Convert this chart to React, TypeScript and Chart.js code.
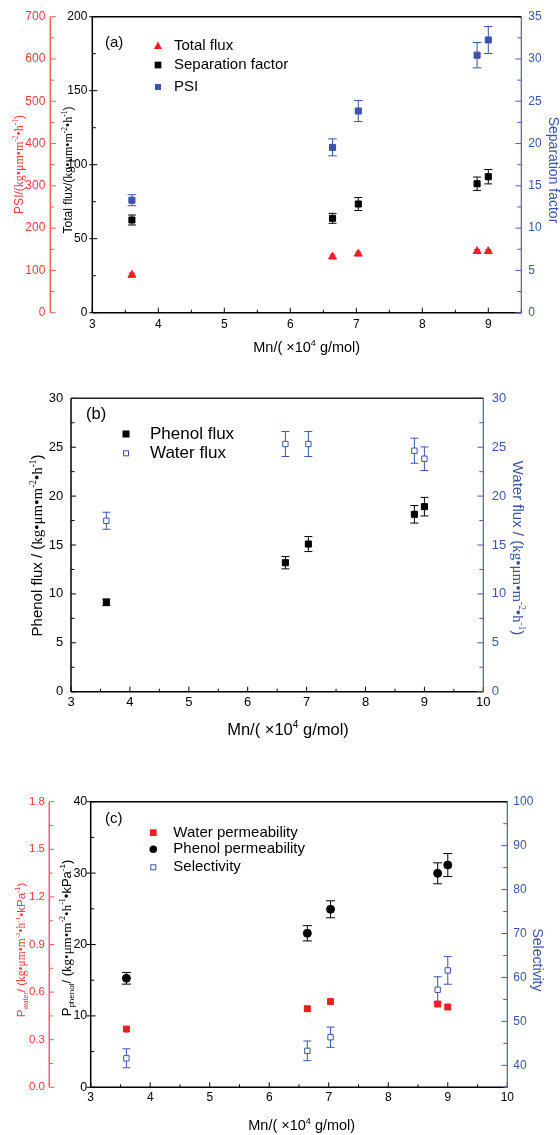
import React, { useEffect, useRef } from 'react';
import { Chart, registerables } from 'chart.js';

Chart.register(...registerables);

const SANS = '"Liberation Sans", Arial, Helvetica, sans-serif';
const SERIF = '"Liberation Serif", "Times New Roman", serif';

const RED = '#f01e23';
const RED_AXIS = '#f35a5a';
const RED_TEXT = '#f23a3a';
const BLUE = '#3b55a6';
const BLUE_AXIS = '#4560ad';
const BLACK = '#000000';

// Mn (x10^4 g/mol)
const MN = [3.6, 6.64, 7.03, 8.83, 9.0];

// (a)
const TOTAL_FLUX = [25.5, 37.8, 39.8, 41.5, 41.5];
const TOTAL_FLUX_ERR = [1.2, 1.2, 1.2, 1.2, 1.2];
const SEPARATION_FACTOR = [10.96, 11.16, 12.85, 15.25, 16.08];
const SEPARATION_FACTOR_ERR = [0.59, 0.59, 0.77, 0.79, 0.85];
const PSI = [266, 391, 477, 609, 645];
const PSI_ERR = [13, 20, 25, 30, 32];

// (b)
const PHENOL_FLUX = [9.14, 13.19, 15.1, 18.14, 18.92];
const PHENOL_FLUX_ERR = [0.34, 0.63, 0.77, 0.9, 0.95];
const WATER_FLUX = [17.48, 25.33, 25.33, 24.64, 23.82];
const WATER_FLUX_ERR = [0.87, 1.28, 1.28, 1.28, 1.21];

// (c)
const WATER_PERM = [0.367, 0.495, 0.54, 0.525, 0.506];
const WATER_PERM_ERR = [0.012, 0.015, 0.015, 0.015, 0.012];
const PHENOL_PERM = [15.27, 21.57, 24.93, 29.97, 31.13];
const PHENOL_PERM_ERR = [0.82, 1.07, 1.19, 1.47, 1.61];
const SELECTIVITY = [41.6, 43.3, 46.4, 57.2, 61.6];
const SELECTIVITY_ERR = [2.16, 2.24, 2.3, 2.96, 3.15];

// tick labels
const A_X_LABELS = [3, 4, 5, 6, 7, 8, 9];
const A_FLUX_LABELS = [0, 50, 100, 150, 200];
const A_PSI_LABELS = [0, 100, 200, 300, 400, 500, 600, 700];
const A_SF_LABELS = [0, 5, 10, 15, 20, 25, 30, 35];
const BC_X_LABELS = [3, 4, 5, 6, 7, 8, 9, 10];
const B_FLUX_LABELS = [0, 5, 10, 15, 20, 25, 30];
const C_PPHENOL_LABELS = [0, 10, 20, 30, 40];
const C_PWATER_LABELS = [0, 0.3, 0.6, 0.9, 1.2, 1.5, 1.8];
const C_SEL_LABELS = [40, 50, 60, 70, 80, 90, 100];

type Seg = { t: string; s?: 'sup' | 'sub'; serif?: boolean };

const isIn = (labels: number[], v: number) => labels.some((l) => Math.abs(l - v) < 1e-6);

function makeScale(o: any) {
  return {
    type: 'linear',
    position: o.pos,
    min: o.min,
    max: o.max,
    weight: o.weight ?? 0,
    afterBuildTicks: (s: any) => {
      const n = Math.round((o.max - o.min) / o.minor);
      const t: any[] = [];
      for (let i = 0; i <= n; i++) t.push({ value: Math.round((o.min + i * o.minor) * 1e6) / 1e6 });
      s.ticks = t;
    },
    ticks: {
      autoSkip: false,
      maxRotation: 0,
      minRotation: 0,
      padding: o.pad,
      color: o.color,
      font: { family: SANS, size: o.size },
      callback: (v: number) => {
        const m = o.labels.find((l: number) => Math.abs(l - v) < 1e-6);
        return m === undefined ? '' : o.fmt ? o.fmt(m) : String(m);
      },
    },
    grid: { display: false, drawTicks: false },
    border: { display: false },
    afterFit: (s: any) => {
      if (o.w !== undefined) s.width = o.w;
      if (o.h !== undefined) s.height = o.h;
    },
  };
}

const framePlugin = {
  id: 'frame',
  beforeDatasetsDraw(chart: any, _a: any, o: any) {
    const ctx = chart.ctx;
    const ca = chart.chartArea;
    ctx.save();
    for (const ax of o.axes) {
      const s = chart.scales[ax.id];
      ctx.strokeStyle = ax.color;
      ctx.lineWidth = 1;
      ctx.beginPath();
      for (const t of s.ticks) {
        const p = s.getPixelForValue(t.value);
        const maj = isIn(ax.labels, t.value);
        const inn = maj ? ax.majIn : ax.minIn;
        const out = maj ? ax.majOut || 0 : 0;
        if (ax.side === 'bottom') {
          ctx.moveTo(p, s.top + out);
          ctx.lineTo(p, s.top - inn);
        } else if (ax.side === 'left') {
          ctx.moveTo(s.right - out, p);
          ctx.lineTo(s.right + inn, p);
        } else {
          ctx.moveTo(s.left + out, p);
          ctx.lineTo(s.left - inn, p);
        }
      }
      ctx.stroke();
      ctx.lineWidth = ax.lw;
      ctx.beginPath();
      if (ax.side === 'bottom') {
        ctx.moveTo(ca.left, s.top);
        ctx.lineTo(ca.right, s.top);
      } else {
        const x = ax.side === 'left' ? s.right : s.left;
        ctx.moveTo(x, ca.top);
        ctx.lineTo(x, ca.bottom);
      }
      ctx.stroke();
    }
    ctx.strokeStyle = o.topColor;
    ctx.lineWidth = o.topWidth;
    ctx.beginPath();
    ctx.moveTo(ca.left, ca.top);
    ctx.lineTo(ca.right, ca.top);
    ctx.stroke();
    ctx.restore();
  },
};

const errPlugin = {
  id: 'errbars',
  beforeDatasetsDraw(chart: any) {
    const ctx = chart.ctx;
    chart.data.datasets.forEach((ds: any) => {
      if (!ds.errors) return;
      const xs = chart.scales.x;
      const ys = chart.scales[ds.yAxisID];
      ctx.save();
      ctx.strokeStyle = ds.errColor;
      ctx.lineWidth = 1;
      ds.data.forEach((pt: any, j: number) => {
        const x = xs.getPixelForValue(pt.x);
        const y1 = ys.getPixelForValue(pt.y - ds.errors[j]);
        const y2 = ys.getPixelForValue(pt.y + ds.errors[j]);
        const c = ds.cap;
        ctx.beginPath();
        ctx.moveTo(x, y1);
        ctx.lineTo(x, y2);
        ctx.moveTo(x - c, y1);
        ctx.lineTo(x + c, y1);
        ctx.moveTo(x - c, y2);
        ctx.lineTo(x + c, y2);
        ctx.stroke();
      });
      ctx.restore();
    });
  },
};

function drawRich(ctx: CanvasRenderingContext2D, segs: Seg[], cx: number, cy: number, size: number, color: string, rot: number) {
  ctx.save();
  ctx.translate(cx, cy);
  ctx.rotate(rot);
  ctx.fillStyle = color;
  ctx.textBaseline = 'alphabetic';
  ctx.textAlign = 'left';
  const fonts = segs.map((sg) => `${sg.s ? size * 0.62 : size}px ${sg.serif ? SERIF : SANS}`);
  const widths = segs.map((sg, i) => {
    ctx.font = fonts[i];
    return ctx.measureText(sg.t).width;
  });
  const total = widths.reduce((a, b) => a + b, 0);
  let x = -total / 2;
  const base = size * 0.36;
  segs.forEach((sg, i) => {
    ctx.font = fonts[i];
    const dy = sg.s === 'sup' ? -size * 0.42 : sg.s === 'sub' ? size * 0.22 : 0;
    ctx.fillText(sg.t, x, base + dy);
    x += widths[i];
  });
  ctx.restore();
}

function drawText(ctx: CanvasRenderingContext2D, t: string, x: number, y: number, size: number, color: string) {
  ctx.save();
  ctx.font = `${size}px ${SANS}`;
  ctx.fillStyle = color;
  ctx.textAlign = 'left';
  ctx.textBaseline = 'middle';
  ctx.fillText(t, x, y);
  ctx.restore();
}

function legendMarker(ctx: CanvasRenderingContext2D, kind: string, x: number, y: number, sz: number, color: string) {
  ctx.save();
  ctx.fillStyle = color;
  ctx.strokeStyle = color;
  ctx.lineWidth = 1;
  if (kind === 'tri') {
    ctx.beginPath();
    ctx.moveTo(x, y - sz * 0.55);
    ctx.lineTo(x + sz / 2, y + sz * 0.4);
    ctx.lineTo(x - sz / 2, y + sz * 0.4);
    ctx.closePath();
    ctx.fill();
  } else if (kind === 'sq') {
    ctx.fillRect(x - sz / 2, y - sz / 2, sz, sz);
  } else if (kind === 'osq') {
    ctx.fillStyle = '#fff';
    ctx.fillRect(x - sz / 2, y - sz / 2, sz, sz);
    ctx.strokeRect(x - sz / 2 + 0.5, y - sz / 2 + 0.5, sz - 1, sz - 1);
  } else {
    ctx.beginPath();
    ctx.arc(x, y, sz / 2, 0, Math.PI * 2);
    ctx.fill();
  }
  ctx.restore();
}

const FLUX_UNIT: Seg[] = [
  { t: 'kg•μm•m', serif: true },
  { t: '-2', s: 'sup', serif: true },
  { t: '•h', serif: true },
  { t: '-1', s: 'sup', serif: true },
  { t: ')' },
];
const PERM_UNIT: Seg[] = [
  { t: 'kg•μm•m', serif: true },
  { t: '-2', s: 'sup', serif: true },
  { t: '•h', serif: true },
  { t: '-1', s: 'sup', serif: true },
  { t: '•kPa' },
  { t: '-1', s: 'sup' },
  { t: ')' },
];
const X_TITLE: Seg[] = [{ t: 'Mn/( ×10' }, { t: '4', s: 'sup' }, { t: ' g/mol)' }];

function pts(ys: number[]) {
  return MN.map((x, i) => ({ x, y: ys[i] }));
}

function ds(label: string, ys: number[], errs: number[], yAxisID: string, style: string, r: number, color: string, fill: string, cap: number) {
  return {
    label,
    data: pts(ys),
    yAxisID,
    pointStyle: style,
    pointRadius: r,
    pointBackgroundColor: fill,
    pointBorderColor: color,
    pointBorderWidth: 1,
    backgroundColor: fill,
    borderColor: color,
    errors: errs,
    errColor: color,
    cap,
  };
}

const baseOpts = (top: number) => ({
  responsive: false,
  animation: false,
  events: [],
  layout: { padding: { top, left: 0, right: 0, bottom: 0 } },
});

function buildA(): any {
  return {
    type: 'scatter',
    data: {
      datasets: [
        ds('Total flux', TOTAL_FLUX, TOTAL_FLUX_ERR, 'y', 'triangle', 4.6, RED, RED, 3),
        ds('Separation factor', SEPARATION_FACTOR, SEPARATION_FACTOR_ERR, 'ySF', 'rect', 4.3, BLACK, BLACK, 4),
        ds('PSI', PSI, PSI_ERR, 'yPSI', 'rect', 4.3, BLUE, BLUE, 4.3),
      ],
    },
    options: {
      ...baseOpts(16.7),
      plugins: {
        legend: { display: false },
        tooltip: { enabled: false },
        frame: {
          topColor: BLACK,
          topWidth: 1.5,
          axes: [
            { id: 'x', side: 'bottom', color: BLACK, lw: 1.5, labels: A_X_LABELS, majIn: 5, minIn: 3 },
            { id: 'y', side: 'left', color: BLACK, lw: 1.5, labels: A_FLUX_LABELS, majIn: 5, majOut: 3, minIn: 3.5 },
            { id: 'yPSI', side: 'left', color: RED_AXIS, lw: 1.4, labels: A_PSI_LABELS, majIn: 5.5, minIn: 4 },
            { id: 'ySF', side: 'right', color: BLUE_AXIS, lw: 1.2, labels: A_SF_LABELS, majIn: 6, minIn: 4 },
          ],
        },
      },
      scales: {
        x: makeScale({ pos: 'bottom', min: 3, max: 9.5, minor: 0.5, labels: A_X_LABELS, color: BLACK, size: 12, pad: 4.6, h: 47.3 }),
        y: makeScale({ pos: 'left', min: 0, max: 200, minor: 25, labels: A_FLUX_LABELS, color: BLACK, size: 12, pad: 5, w: 42, weight: 0 }),
        yPSI: makeScale({ pos: 'left', min: 0, max: 700, minor: 50, labels: A_PSI_LABELS, color: RED_TEXT, size: 12, pad: 5, w: 50.3, weight: 1 }),
        ySF: makeScale({ pos: 'right', min: 0, max: 35, minor: 2.5, labels: A_SF_LABELS, color: BLUE, size: 12, pad: 7, w: 38.7 }),
      },
    },
    plugins: [
      framePlugin,
      errPlugin,
      {
        id: 'textA',
        afterDraw(chart: any) {
          const ctx = chart.ctx;
          drawText(ctx, '(a)', 105, 42.5, 15, BLACK);
          legendMarker(ctx, 'tri', 158, 45.8, 8, RED);
          legendMarker(ctx, 'sq', 158, 65, 6.7, BLACK);
          legendMarker(ctx, 'sq', 158, 87, 6, BLUE);
          drawText(ctx, 'Total flux', 174, 45.8, 15, BLACK);
          drawText(ctx, 'Separation factor', 174, 65, 15, BLACK);
          drawText(ctx, 'PSI', 174, 87, 15, BLACK);
          drawRich(ctx, [{ t: 'PSI/(' }, ...FLUX_UNIT], 18.5, 164.5, 12, RED_TEXT, -Math.PI / 2);
          drawRich(ctx, [{ t: 'Total flux/(' }, ...FLUX_UNIT], 68, 170, 12, BLACK, -Math.PI / 2);
          drawRich(ctx, [{ t: 'Separation factor' }], 554, 170, 14, BLUE, Math.PI / 2);
          drawRich(ctx, X_TITLE, 306.7, 346.5, 14.5, BLACK, 0);
        },
      },
    ],
  };
}

function buildB(): any {
  return {
    type: 'scatter',
    data: {
      datasets: [
        ds('Phenol flux', PHENOL_FLUX, PHENOL_FLUX_ERR, 'y', 'rect', 4.3, BLACK, BLACK, 4),
        ds('Water flux', WATER_FLUX, WATER_FLUX_ERR, 'yW', 'rect', 3.8, BLUE, '#ffffff', 4),
      ],
    },
    options: {
      ...baseOpts(38.3),
      plugins: {
        legend: { display: false },
        tooltip: { enabled: false },
        frame: {
          topColor: '#222',
          topWidth: 1.5,
          axes: [
            { id: 'x', side: 'bottom', color: BLACK, lw: 1.5, labels: BC_X_LABELS, majIn: 5, minIn: 3 },
            { id: 'y', side: 'left', color: BLACK, lw: 1.5, labels: B_FLUX_LABELS, majIn: 5, minIn: 3.5 },
            { id: 'yW', side: 'right', color: BLUE_AXIS, lw: 1.2, labels: B_FLUX_LABELS, majIn: 6, minIn: 4 },
          ],
        },
      },
      scales: {
        x: makeScale({ pos: 'bottom', min: 3, max: 10, minor: 0.5, labels: BC_X_LABELS, color: BLACK, size: 13, pad: 3, h: 48.3 }),
        y: makeScale({ pos: 'left', min: 0, max: 30, minor: 2.5, labels: B_FLUX_LABELS, color: BLACK, size: 13, pad: 7.7, w: 71 }),
        yW: makeScale({ pos: 'right', min: 0, max: 30, minor: 2.5, labels: B_FLUX_LABELS, color: BLUE, size: 13, pad: 8.4, w: 76.7 }),
      },
    },
    plugins: [
      framePlugin,
      errPlugin,
      {
        id: 'textB',
        afterDraw(chart: any) {
          const ctx = chart.ctx;
          drawText(ctx, '(b)', 86, 54, 16.5, BLACK);
          legendMarker(ctx, 'sq', 126, 74, 7, BLACK);
          legendMarker(ctx, 'osq', 126, 93.3, 6, BLUE);
          drawText(ctx, 'Phenol flux', 150, 74, 17, BLACK);
          drawText(ctx, 'Water flux', 150, 93.3, 17, BLACK);
          drawRich(ctx, [{ t: 'Phenol flux / (' }, ...FLUX_UNIT], 36.5, 185.5, 15, BLACK, -Math.PI / 2);
          drawRich(ctx, [{ t: 'Water flux / (' }, ...FLUX_UNIT], 518, 188, 15, BLUE, Math.PI / 2);
          drawRich(ctx, X_TITLE, 288, 369, 16.5, BLACK, 0);
        },
      },
    ],
  };
}

function buildC(): any {
  return {
    type: 'scatter',
    data: {
      datasets: [
        ds('Water permeability', WATER_PERM, WATER_PERM_ERR, 'yW', 'rect', 4.2, RED, RED, 3),
        ds('Phenol permeability', PHENOL_PERM, PHENOL_PERM_ERR, 'y', 'circle', 4, BLACK, BLACK, 4.5),
        ds('Selectivity', SELECTIVITY, SELECTIVITY_ERR, 'yS', 'rect', 3.8, BLUE, '#ffffff', 4),
      ],
    },
    options: {
      ...baseOpts(61.7),
      plugins: {
        legend: { display: false },
        tooltip: { enabled: false },
        frame: {
          topColor: BLACK,
          topWidth: 1.5,
          axes: [
            { id: 'x', side: 'bottom', color: BLACK, lw: 1.5, labels: BC_X_LABELS, majIn: 5, minIn: 3 },
            { id: 'y', side: 'left', color: BLACK, lw: 1.5, labels: C_PPHENOL_LABELS, majIn: 5, majOut: 4, minIn: 3.5 },
            { id: 'yW', side: 'left', color: RED_AXIS, lw: 1.5, labels: C_PWATER_LABELS, majIn: 5, minIn: 3.5 },
            { id: 'yS', side: 'right', color: BLUE_AXIS, lw: 1.2, labels: C_SEL_LABELS, majIn: 6, minIn: 4 },
          ],
        },
      },
      scales: {
        x: makeScale({ pos: 'bottom', min: 3, max: 10, minor: 0.5, labels: BC_X_LABELS, color: BLACK, size: 12, pad: 3, h: 47.7 }),
        y: makeScale({ pos: 'left', min: 0, max: 40, minor: 5, labels: C_PPHENOL_LABELS, color: BLACK, size: 12.5, pad: 3.4, w: 41.4, weight: 0 }),
        yW: makeScale({ pos: 'left', min: 0, max: 1.8, minor: 0.15, labels: C_PWATER_LABELS, color: RED_TEXT, size: 11.5, pad: 4.3, w: 49.3, weight: 1, fmt: (v: number) => v.toFixed(1) }),
        yS: makeScale({ pos: 'right', min: 35, max: 100, minor: 5, labels: C_SEL_LABELS, color: BLUE, size: 12, pad: 6, w: 52.7 }),
      },
    },
    plugins: [
      framePlugin,
      errPlugin,
      {
        id: 'textC',
        afterDraw(chart: any) {
          const ctx = chart.ctx;
          drawText(ctx, '(c)', 105, 78.5, 15, BLACK);
          legendMarker(ctx, 'sq', 153.3, 92.7, 6.7, RED);
          legendMarker(ctx, 'circ', 153.3, 109.3, 7.5, BLACK);
          legendMarker(ctx, 'osq', 153.3, 127.3, 6, BLUE);
          drawText(ctx, 'Water permeability', 173.3, 92.7, 15, BLACK);
          drawText(ctx, 'Phenol permeability', 173.3, 109.3, 15, BLACK);
          drawText(ctx, 'Selectivity', 173.3, 127.3, 15, BLACK);
          drawRich(ctx, [{ t: 'P' }, { t: 'water', s: 'sub' }, { t: '/ (' }, ...PERM_UNIT], 21, 210, 11.5, RED_TEXT, -Math.PI / 2);
          drawRich(ctx, [{ t: 'P' }, { t: 'phenol', s: 'sub' }, { t: '/ (' }, ...PERM_UNIT], 66, 198, 13, BLACK, -Math.PI / 2);
          drawRich(ctx, [{ t: 'Selectivity' }], 538, 220, 14, BLUE, Math.PI / 2);
          drawRich(ctx, X_TITLE, 301.7, 384.7, 14.5, BLACK, 0);
        },
      },
    ],
  };
}

function Panel({ top, height, build }: { top: number; height: number; build: () => any }) {
  const ref = useRef<HTMLCanvasElement>(null);
  useEffect(() => {
    const chart = new Chart(ref.current as HTMLCanvasElement, build());
    return () => chart.destroy();
  }, []);
  return (
    <canvas
      ref={ref}
      width={560}
      height={height}
      style={{ position: 'absolute', left: 0, top, width: 560, height, display: 'block' }}
    />
  );
}

export default function App() {
  return (
    <div style={{ position: 'absolute', left: 0, top: 0, width: 560, height: 1135, background: '#ffffff', overflow: 'hidden' }}>
      <Panel top={0} height={360} build={buildA} />
      <Panel top={360} height={380} build={buildB} />
      <Panel top={740} height={395} build={buildC} />
    </div>
  );
}
